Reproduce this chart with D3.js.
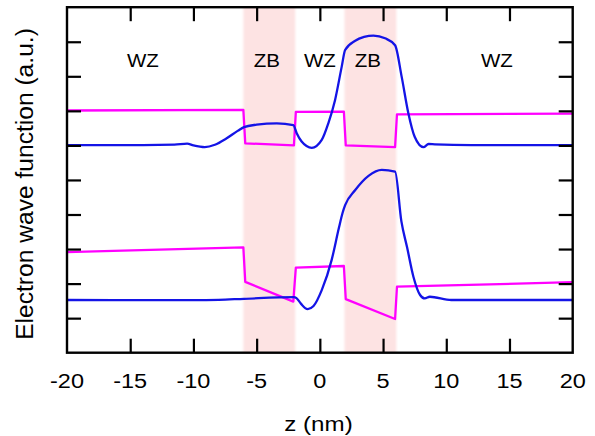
<!DOCTYPE html>
<html>
<head>
<meta charset="utf-8">
<script src="https://cdn.jsdelivr.net/npm/d3@7"></script>
<style>
  body { margin: 0; background: #fff; }
  svg text { font-family: "Liberation Sans", Arial, sans-serif; fill: #000; }
</style>
</head>
<body>
<script>
// zones along z (nm)
var zbBands = [[-6.05, -1.95], [1.95, 6.05]];
var zoneLabels = ['WZ', 'ZB', 'WZ', 'ZB', 'WZ'];
var zoneLabelZ = [-14, -4.2, 0, 3.8, 14];
var zoneLabelY = 8.27;

var xTicks = [-20, -15, -10, -5, 0, 5, 10, 15, 20];
var yTicks = [1, 2, 3, 4, 5, 6, 7, 8, 9];

// upper state: band edge (magenta) and wave function (blue)
var bandUpper = [
  [-20, 7.01], [-6.05, 7.03], [-5.9, 6.06], [-2.05, 6.0], [-1.9, 6.97],
  [1.9, 6.98], [2.05, 6.0], [5.95, 5.95], [6.1, 6.9], [20, 6.92]
];
var waveUpper = [
  [-20, 6.01], [-14, 6.01], [-11.5, 6.02], [-10.5, 6.05], [-10, 6.0],
  [-9.1, 5.95], [-8.3, 6.02], [-7.4, 6.2], [-6.5, 6.42], [-6, 6.53],
  [-5, 6.6], [-3.4, 6.64], [-2.1, 6.59], [-1.83, 6.35], [-1.44, 6.11],
  [-0.64, 5.93], [0.15, 6.16], [0.67, 6.64], [1.2, 7.31], [1.73, 8.28],
  [2, 8.76], [2.8, 9.03], [3.5, 9.14], [4.24, 9.18], [5.16, 9.10],
  [5.95, 8.9], [6.47, 7.99], [7.0, 6.93], [7.5, 6.25], [8.2, 5.95],
  [8.6, 6.04], [9.1, 6.03], [12, 6.01], [20, 6.01]
];

// lower state
var bandLower = [
  [-20, 2.91], [-6.05, 3.05], [-5.9, 2.05], [-2.1, 1.48], [-1.9, 2.46],
  [1.9, 2.51], [2.05, 1.55], [5.95, 0.975], [6.1, 1.91], [20, 2.04]
];
var waveLower = [
  [-20, 1.525], [-12, 1.52], [-10, 1.52], [-8, 1.53], [-6, 1.56],
  [-2.05, 1.61], [-1.85, 1.58], [-1.5, 1.42], [-0.96, 1.26], [-0.5, 1.35],
  [0.15, 1.81], [0.93, 2.68], [1.5, 3.6], [1.8, 4.05], [2, 4.27],
  [2.8, 4.71], [3.85, 5.12], [4.9, 5.29], [5.95, 5.24], [6.45, 3.8],
  [6.9, 3.05], [7.4, 2.2], [7.93, 1.67], [8.3, 1.57], [8.7, 1.62],
  [10.4, 1.525], [20, 1.525]
];

var width = 595, height = 436;
var margin = {top: 7.2, right: 22.3, bottom: 83.3, left: 67};
var w = width - margin.left - margin.right,
    h = height - margin.top - margin.bottom;

var svg = d3.select('body').append('svg')
  .attr('width', width)
  .attr('height', height);

var defs = svg.append('defs');
defs.append('filter').attr('id', 'soft')
  .attr('x', '-10%').attr('width', '120%')
  .append('feGaussianBlur').attr('stdDeviation', '1.2 0');

var g = svg.append('g')
  .attr('transform', 'translate(' + margin.left + ',' + margin.top + ')');

var x = d3.scaleLinear().domain([-20, 20]).range([0, w]);
var y = d3.scaleLinear().domain([0, 10]).range([h, 0]);

// ZB shading
g.append('g').selectAll('rect')
  .data(zbBands)
  .enter().append('rect')
    .attr('x', function(d) { return x(d[0]); })
    .attr('width', function(d) { return x(d[1]) - x(d[0]); })
    .attr('y', 0)
    .attr('height', h)
    .attr('fill', '#fde3e3')
    .attr('filter', 'url(#soft)');

var line = d3.line()
  .x(function(d) { return x(d[0]); })
  .y(function(d) { return y(d[1]); });

var smooth = d3.line()
  .x(function(d) { return x(d[0]); })
  .y(function(d) { return y(d[1]); })
  .curve(d3.curveMonotoneX);

[bandUpper, bandLower].forEach(function(d) {
  g.append('path').datum(d)
    .attr('d', line)
    .attr('fill', 'none')
    .attr('stroke', '#ff00ff')
    .attr('stroke-width', 2.3)
    .attr('stroke-linejoin', 'round');
});

[waveUpper, waveLower].forEach(function(d) {
  g.append('path').datum(d)
    .attr('d', smooth)
    .attr('fill', 'none')
    .attr('stroke', '#1414e6')
    .attr('stroke-width', 2.3)
    .attr('stroke-linejoin', 'round');
});

// axes: ticks inside, on all four sides
var tickLen = 14;
var inner = xTicks.slice(1, -1);

g.append('g')
  .attr('transform', 'translate(0,' + h + ')')
  .call(d3.axisTop(x).tickValues(inner).tickSize(tickLen).tickFormat(''))
  .call(function(a) { a.select('.domain').remove(); });
g.append('g')
  .call(d3.axisBottom(x).tickValues(inner).tickSize(tickLen).tickFormat(''))
  .call(function(a) { a.select('.domain').remove(); });
g.append('g')
  .call(d3.axisRight(y).tickValues(yTicks).tickSize(tickLen).tickFormat(''))
  .call(function(a) { a.select('.domain').remove(); });
g.append('g')
  .attr('transform', 'translate(' + w + ',0)')
  .call(d3.axisLeft(y).tickValues(yTicks).tickSize(tickLen).tickFormat(''))
  .call(function(a) { a.select('.domain').remove(); });

g.selectAll('.tick line').attr('stroke', '#000').attr('stroke-width', 2.2);

g.append('rect')
  .attr('width', w).attr('height', h)
  .attr('fill', 'none')
  .attr('stroke', '#000')
  .attr('stroke-width', 2.4);

// tick labels
g.append('g').selectAll('text')
  .data(xTicks)
  .enter().append('text')
    .attr('transform', function(d) { return 'translate(' + x(d) + ',' + (h + 35.6) + ') scale(1.12,1)'; })
    .attr('text-anchor', 'middle')
    .style('font-size', '21px')
    .text(function(d) { return d; });

// zone labels
g.append('g').selectAll('text')
  .data(zoneLabels)
  .enter().append('text')
    .attr('transform', function(d, i) { return 'translate(' + x(zoneLabelZ[i]) + ',' + y(zoneLabelY) + ') scale(1.08,1)'; })
    .attr('text-anchor', 'middle')
    .style('font-size', '19px')
    .text(function(d) { return d; });

svg.append('text')
  .attr('transform', 'translate(318.5,431) scale(1.15,1)')
  .attr('text-anchor', 'middle')
  .style('font-size', '21px')
  .text('z (nm)');

svg.append('text')
  .attr('transform', 'translate(33.3,184) rotate(-90)')
  .attr('text-anchor', 'middle')
  .style('font-size', '24.6px')
  .text('Electron wave function (a.u.)');
</script>
</body>
</html>
